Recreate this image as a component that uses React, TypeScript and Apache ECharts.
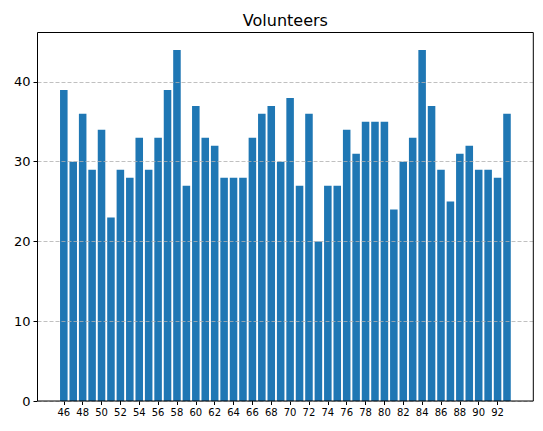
import React, { useEffect, useRef } from "react";
import * as echarts from "echarts";

const years = [
  46, 47, 48, 49, 50, 51, 52, 53, 54, 55,
  56, 57, 58, 59, 60, 61, 62, 63, 64, 65,
  66, 67, 68, 69, 70, 71, 72, 73, 74, 75,
  76, 77, 78, 79, 80, 81, 82, 83, 84, 85,
  86, 87, 88, 89, 90, 91, 92, 93,
];
const volunteers = [
  39, 30, 36, 29, 34, 23, 29, 28, 33, 29,
  33, 39, 44, 27, 37, 33, 32, 28, 28, 28,
  33, 36, 37, 30, 38, 27, 36, 20, 27, 27,
  34, 31, 35, 35, 35, 24, 30, 33, 44, 37,
  29, 25, 31, 32, 29, 29, 28, 36,
];
const xTicks = [46, 48, 50, 52, 54, 56, 58, 60, 62, 64, 66, 68, 70, 72, 74, 76, 78, 80, 82, 84, 86, 88, 90, 92];
const yTicks = [0, 10, 20, 30, 40];
const title = "Volunteers";

const W = 543;
const H = 431;
const GL = 37.5;
const GT = 32.5;
const GR = 9.7;
const GB = 30;
const XMIN = 43.21;
const XMAX = 95.79;
const YMAX = 46.2;

export default function App() {
  const ref = useRef<HTMLDivElement>(null);
  useEffect(() => {
    document.body.style.margin = "0";
    if (!ref.current) return;
    const chart = echarts.init(ref.current, null, { renderer: "svg" });
    const gw = W - GL - GR;
    const gh = H - GT - GB;
    const barW = (gw / (XMAX - XMIN)) * 0.8;
    const font = "DejaVu Sans";
    chart.setOption({
      animation: false,
      backgroundColor: "#ffffff",
      grid: { left: GL, top: GT, right: GR, bottom: GB, containLabel: false },
      xAxis: {
        type: "value",
        min: XMIN,
        max: XMAX,
        axisLine: { show: false },
        axisTick: { show: true, customValues: xTicks, length: 4, lineStyle: { color: "#000" } },
        axisLabel: {
          customValues: xTicks,
          color: "#000",
          fontSize: 10,
          fontFamily: font,
          margin: 6,
        },
        splitLine: { show: false },
      },
      yAxis: {
        type: "value",
        min: 0,
        max: YMAX,
        z: 3,
        axisLine: { show: false },
        axisTick: { show: true, customValues: yTicks, length: 4, lineStyle: { color: "#000" } },
        axisLabel: {
          customValues: yTicks,
          color: "#000",
          fontSize: 13,
          fontFamily: font,
          margin: 7,
        },
        splitLine: {
          show: true,
          lineStyle: { color: "#b0b0b0", type: [4, 2], width: 0.8 },
        },
      },
      series: [
        {
          type: "bar",
          data: years.map((x, i) => [x, volunteers[i]]),
          barWidth: barW,
          itemStyle: { color: "#1f77b4" },
          z: 2,
        },
      ],
      graphic: [
        {
          type: "rect",
          z: 100,
          silent: true,
          shape: { x: GL, y: GT, width: gw, height: gh },
          style: { fill: "none", stroke: "#000", lineWidth: 1 },
        },
        {
          type: "text",
          z: 100,
          x: GL + gw / 2,
          y: 28,
          style: {
            text: title,
            fill: "#000",
            fontSize: 16,
            fontFamily: font,
            textAlign: "center",
            textVerticalAlign: "bottom",
          },
        },
      ],
    });
    return () => chart.dispose();
  }, []);
  return <div ref={ref} style={{ width: W, height: H }} />;
}
